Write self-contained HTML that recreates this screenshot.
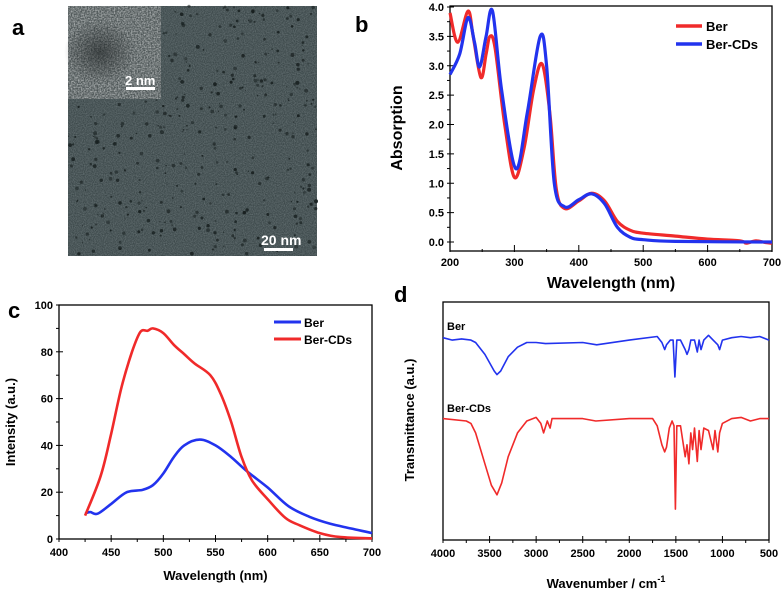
<!DOCTYPE html>
<html><head><meta charset="utf-8">
<style>
html,body{margin:0;padding:0;background:#fff;}
body{width:784px;height:594px;overflow:hidden;position:relative;font-family:"Liberation Sans",sans-serif;}
svg{position:absolute;left:0;top:0;}
text{font-family:"Liberation Sans",sans-serif;font-weight:bold;}
</style></head>
<body>
<svg id="fig" width="784" height="594" viewBox="0 0 784 594" xmlns="http://www.w3.org/2000/svg">
  <defs>
    <filter id="noise" x="0" y="0" width="100%" height="100%">
      <feTurbulence type="fractalNoise" baseFrequency="0.9" numOctaves="2" seed="3"/>
      <feColorMatrix type="matrix" values="0 0 0 0 0.36  0 0 0 0 0.42  0 0 0 0 0.43  0 0 0 1.1 -0.3"/>
    </filter>
    <filter id="noise2" x="0" y="0" width="100%" height="100%">
      <feTurbulence type="fractalNoise" baseFrequency="0.7" numOctaves="2" seed="7"/>
      <feColorMatrix type="matrix" values="0 0 0 0 0.75  0 0 0 0 0.77  0 0 0 0 0.77  0 0 0 1.6 -0.5"/>
    </filter>
    <radialGradient id="blob">
      <stop offset="0" stop-color="#1c2122" stop-opacity="0.6"/>
      <stop offset="1" stop-color="#1c2122" stop-opacity="0"/>
    </radialGradient>
  </defs>
  <text x="12" y="35" font-size="22">a</text>
  <text x="355" y="32" font-size="22">b</text>
  <text x="8" y="318" font-size="22">c</text>
  <text x="394" y="302" font-size="22">d</text>

  <g>
    <rect x="68" y="6" width="249" height="250" fill="#3d494b"/>
    <rect x="68" y="6" width="249" height="250" filter="url(#noise)" opacity="0.6"/>
    <g id="dots"></g>
    <g>
      <rect x="68" y="6" width="93" height="93" fill="#4f5758"/>
      <rect x="68" y="6" width="93" height="93" filter="url(#noise2)" opacity="0.8"/>
      <ellipse cx="100" cy="52" rx="36" ry="32" fill="url(#blob)"/>
      <text x="125" y="85" font-size="13" fill="#fff" font-family="Liberation Serif">2 nm</text>
      <rect x="126" y="87" width="29" height="3" fill="#fff"/>
    </g>
    <text x="261" y="245" font-size="14" fill="#fff" font-family="Liberation Serif">20 nm</text>
    <rect x="264" y="248" width="29" height="3" fill="#fff"/>
  </g>

  <g id="panelB"></g>
  <g id="panelC"></g>
  <g id="panelD"></g>
</svg>
<script>
// ---------- Panel b data ----------
const absBerX = [200,212,228,236,248,256,262,270,285,300,315,330,343,355,365,378,400,420,440,460,480,500,550,600,650,660,675,690,700];
const absBerY = [3.9,3.4,3.93,3.5,2.8,3.2,3.5,3.3,2.0,1.1,1.6,2.6,3.03,2.2,0.9,0.57,0.7,0.83,0.7,0.35,0.2,0.15,0.1,0.05,0.02,-0.02,0.02,-0.01,-0.02];
const absCdX = [200,215,228,238,246,256,266,280,302,320,340,350,362,378,400,420,440,460,480,500,550,700];
const absCdY = [2.85,3.2,3.82,3.4,2.98,3.5,3.93,2.6,1.25,2.2,3.5,3.0,1.0,0.6,0.72,0.82,0.65,0.25,0.08,0.04,0.01,0.0];
const absXTicks = [200,300,400,500,600,700];
const absYTicks = [0.0,0.5,1.0,1.5,2.0,2.5,3.0,3.5,4.0];
// ---------- Panel c data ----------
const flBerX = [425,430,437,450,465,480,490,500,510,520,535,550,565,580,600,620,640,660,680,700];
const flBerY = [11,11.5,10.8,15,20,21,23,28,35,40,42.5,40,35,29,22,14,9.5,6.5,4.5,2.5];
const flCdX = [425,440,450,460,470,478,485,490,500,510,520,530,545,555,565,575,585,600,617,630,650,670,700];
const flCdY = [10,27,45,65,80,88.5,89,90,88,83,79,75,70,62,50,35,25,17,9,6,2.5,0.8,0.3];
const flXTicks = [400,450,500,550,600,650,700];
const flYTicks = [0,20,40,60,80,100];
// ---------- Panel d data ----------
const irBerX = [4000,3900,3800,3700,3650,3550,3450,3420,3380,3300,3200,3100,3000,2900,2500,2350,2000,1700,1650,1620,1600,1560,1530,1510,1490,1450,1400,1380,1360,1340,1300,1270,1250,1230,1200,1150,1100,1050,1030,1000,900,800,700,600,500];
const irBerY = [85,84,84.5,84,83,78,71,69.5,71,77,81,83,83,82.5,83,82,84,85.5,83,80,82,84,84,68.5,84,84,80,78,80,84,84,79,84,80,84,86,84,82,80,84,85,85.5,85,85.5,84];
const irCdX = [4000,3750,3700,3650,3550,3480,3420,3370,3300,3200,3100,3000,2950,2920,2880,2850,2830,2500,2360,2000,1750,1700,1650,1620,1600,1570,1540,1520,1505,1490,1450,1400,1380,1360,1340,1320,1300,1270,1250,1230,1200,1150,1100,1080,1050,1030,1000,900,800,700,600,500];
const irCdY = [51,50,49,45,32,23,19,24,35,45,50,51.5,49,45,50,47,51,51,50,51,51,48,40,37,39,47,50,48,13,48,48,35,40,32,45,38,47,33,46,38,47,46,38,46,37,45,49,51,51.5,50,51,51];
const irXTicks = [4000,3500,3000,2500,2000,1500,1000,500];

const NS = "http://www.w3.org/2000/svg";
function mk(parent, tag, attrs, txt){
  const e = document.createElementNS(NS, tag);
  for (const k in attrs) e.setAttribute(k, attrs[k]);
  if (txt !== undefined) e.textContent = txt;
  parent.appendChild(e);
  return e;
}
function scale(d0,d1,r0,r1){ return v => r0 + (v-d0)/(d1-d0)*(r1-r0); }
function linePath(xs, ys, sx, sy){
  return xs.map((x,i)=>(i?'L':'M')+sx(x).toFixed(1)+','+sy(ys[i]).toFixed(1)).join(' ');
}
function smoothPath(xs, ys, sx, sy){
  const p = xs.map((x,i)=>[sx(x), sy(ys[i])]);
  let d = 'M'+p[0][0].toFixed(1)+','+p[0][1].toFixed(1);
  for (let i=0;i<p.length-1;i++){
    const p0=p[Math.max(i-1,0)], p1=p[i], p2=p[i+1], p3=p[Math.min(i+2,p.length-1)];
    const c1=[p1[0]+(p2[0]-p0[0])/6, p1[1]+(p2[1]-p0[1])/6];
    const c2=[p2[0]-(p3[0]-p1[0])/6, p2[1]-(p3[1]-p1[1])/6];
    d += ' C'+c1[0].toFixed(1)+','+c1[1].toFixed(1)+' '+c2[0].toFixed(1)+','+c2[1].toFixed(1)+' '+p2[0].toFixed(1)+','+p2[1].toFixed(1);
  }
  return d;
}

// TEM dots (decorative texture)
(function(){
  const g = document.getElementById('dots');
  let s = 12345;
  const r = () => { s = (s*1103515245+12345) % 2147483648; return s/2147483648; };
  for (let i=0;i<420;i++){
    const x = 68 + r()*249, y = 6 + r()*250;
    if (x < 161 && y < 99) continue;
    const c = mk(g,'circle',{cx:x.toFixed(1),cy:y.toFixed(1),r:(0.6+r()*1.4).toFixed(1),fill:'#182020',opacity:(0.45+r()*0.5).toFixed(2)});
    
    
  }
})();

// ---------- Panel b ----------
(function(){
  const g = document.getElementById('panelB');
  const L=450,R=772,T=7,B=242;
  const sx = scale(200,700,L,R), sy = scale(0,4,B,T);
  const fr = mk(g,'rect',{x:L,y:T-1,width:R-L,height:B-T+10,fill:'none',stroke:'#000','stroke-width':1.3});
  
  
  const yb = B+7;
  absXTicks.forEach((t,i)=>{
    mk(g,'line',{x1:sx(t),x2:sx(t),y1:yb+3,y2:yb-4,stroke:'#000'});
    if(i<absXTicks.length-1) mk(g,'line',{x1:sx(t+50),x2:sx(t+50),y1:yb+3,y2:yb,stroke:'#000'});
    const tl = mk(g,'text',{x:sx(t),y:yb+17,'font-size':11,'text-anchor':'middle'},t);
    
    
  });
  absYTicks.forEach((t,i)=>{
    mk(g,'line',{x1:L-3,x2:L+4,y1:sy(t),y2:sy(t),stroke:'#000'});
    if(i<absYTicks.length-1) mk(g,'line',{x1:L-3,x2:L,y1:sy(t+0.25),y2:sy(t+0.25),stroke:'#000'});
    const tl = mk(g,'text',{x:L-6,y:sy(t)+4,'font-size':11,'text-anchor':'end'},t.toFixed(1));
    
    
  });
  const red = mk(g,'path',{d:smoothPath(absBerX,absBerY,sx,sy),fill:'none',stroke:'#f02a2a','stroke-width':3.2,'stroke-linejoin':'round'});
  
  
  const blue = mk(g,'path',{d:smoothPath(absCdX,absCdY,sx,sy),fill:'none',stroke:'#2233ee','stroke-width':3.2,'stroke-linejoin':'round'});
  
  
  const lg = mk(g,'g',{});
  
  
  mk(lg,'line',{x1:676,x2:702,y1:26,y2:26,stroke:'#f02a2a','stroke-width':3.5});
  mk(lg,'text',{x:706,y:31,'font-size':13},'Ber');
  mk(lg,'line',{x1:676,x2:702,y1:44,y2:44,stroke:'#2233ee','stroke-width':3.5});
  mk(lg,'text',{x:706,y:49,'font-size':13},'Ber-CDs');
  const xt = mk(g,'text',{x:(L+R)/2,y:288,'font-size':16,'text-anchor':'middle'},'Wavelength (nm)');
  
  
  const yt = mk(g,'text',{x:0,y:0,'font-size':16,'text-anchor':'middle',transform:'translate(402,128) rotate(-90)'},'Absorption');
  
  
})();

// ---------- Panel c ----------
(function(){
  const g = document.getElementById('panelC');
  const L=59,R=372,T=305,B=539;
  const sx = scale(400,700,L,R), sy = scale(0,100,B,T);
  const fr = mk(g,'rect',{x:L,y:T,width:R-L,height:B-T,fill:'none',stroke:'#000','stroke-width':1.3});
  
  
  flXTicks.forEach((t,i)=>{
    mk(g,'line',{x1:sx(t),x2:sx(t),y1:B+3,y2:B-4,stroke:'#000'});
    if(i<flXTicks.length-1) mk(g,'line',{x1:sx(t+25),x2:sx(t+25),y1:B+3,y2:B,stroke:'#000'});
    const tl = mk(g,'text',{x:sx(t),y:B+17,'font-size':11,'text-anchor':'middle'},t);
    
    
  });
  flYTicks.forEach((t,i)=>{
    mk(g,'line',{x1:L-3,x2:L+4,y1:sy(t),y2:sy(t),stroke:'#000'});
    if(i<flYTicks.length-1) mk(g,'line',{x1:L-3,x2:L,y1:sy(t+10),y2:sy(t+10),stroke:'#000'});
    const tl = mk(g,'text',{x:L-6,y:sy(t)+4,'font-size':11,'text-anchor':'end'},t);
    
    
  });
  const blue = mk(g,'path',{d:smoothPath(flBerX,flBerY,sx,sy),fill:'none',stroke:'#2233ee','stroke-width':2.6,'stroke-linejoin':'round'});
  
  
  const red = mk(g,'path',{d:smoothPath(flCdX,flCdY,sx,sy),fill:'none',stroke:'#f02a2a','stroke-width':2.6,'stroke-linejoin':'round'});
  
  
  const lg = mk(g,'g',{});
  
  
  mk(lg,'line',{x1:274,x2:301,y1:322,y2:322,stroke:'#2233ee','stroke-width':3});
  mk(lg,'text',{x:304,y:327,'font-size':12},'Ber');
  mk(lg,'line',{x1:274,x2:301,y1:339,y2:339,stroke:'#f02a2a','stroke-width':3});
  mk(lg,'text',{x:304,y:344,'font-size':12},'Ber-CDs');
  const xt = mk(g,'text',{x:(L+R)/2,y:580,'font-size':13,'text-anchor':'middle'},'Wavelength (nm)');
  
  
  const yt = mk(g,'text',{x:0,y:0,'font-size':13,'text-anchor':'middle',transform:'translate(15,422) rotate(-90)'},'Intensity (a.u.)');
  
  
})();

// ---------- Panel d ----------
(function(){
  const g = document.getElementById('panelD');
  const L=443,R=769,T=302,B=540;
  const sx = scale(4000,500,L,R), sy = scale(0,100,B,T);
  const fr = mk(g,'rect',{x:L,y:T,width:R-L,height:B-T,fill:'none',stroke:'#000','stroke-width':1.3});
  
  
  irXTicks.forEach((t,i)=>{
    mk(g,'line',{x1:sx(t),x2:sx(t),y1:B+3,y2:B-4,stroke:'#000'});
    if(i<irXTicks.length-1) mk(g,'line',{x1:sx(t-250),x2:sx(t-250),y1:B+3,y2:B,stroke:'#000'});
    const tl = mk(g,'text',{x:sx(t),y:B+17,'font-size':11,'text-anchor':'middle'},t);
    
    
  });
  const blue = mk(g,'path',{d:linePath(irBerX,irBerY,sx,sy),fill:'none',stroke:'#2233ee','stroke-width':1.6,'stroke-linejoin':'round'});
  
  
  const red = mk(g,'path',{d:linePath(irCdX,irCdY,sx,sy),fill:'none',stroke:'#f02a2a','stroke-width':1.6,'stroke-linejoin':'round'});
  
  
  const l1 = mk(g,'text',{x:447,y:330,'font-size':11},'Ber');
  
  
  const l2 = mk(g,'text',{x:447,y:412,'font-size':11},'Ber-CDs');
  
  
  const xt = mk(g,'text',{x:(L+R)/2,y:588,'font-size':13,'text-anchor':'middle'},'Wavenumber / cm');
  mk(xt,'tspan',{dy:-6,'font-size':9},'-1');
  
  
  const yt = mk(g,'text',{x:0,y:0,'font-size':13,'text-anchor':'middle',transform:'translate(414,420) rotate(-90)'},'Transmittance (a.u.)');
  
  
})();
</script>
</body></html>
